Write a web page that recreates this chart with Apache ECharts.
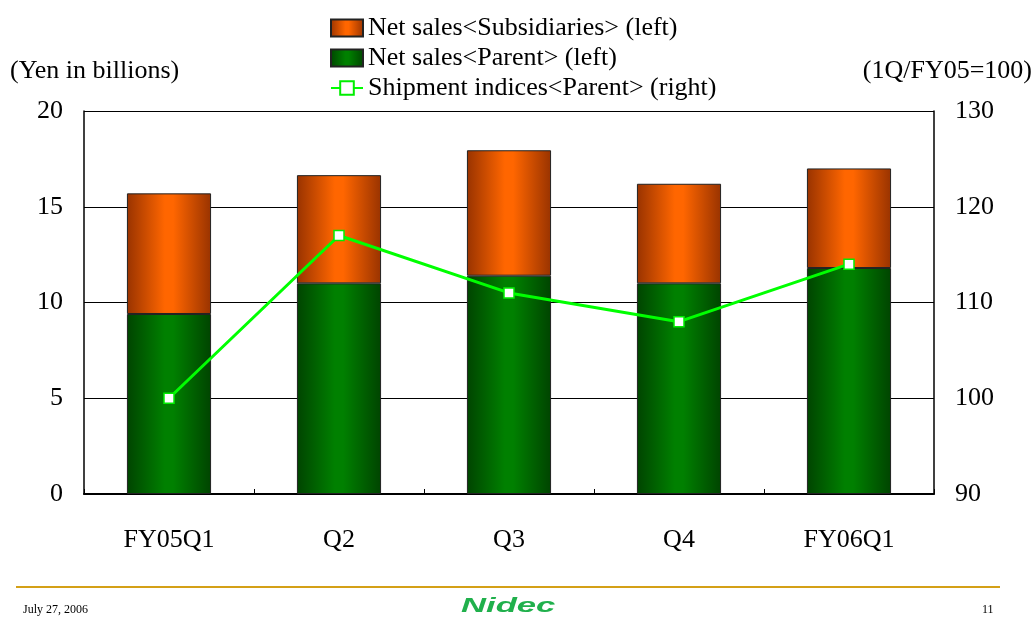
<!DOCTYPE html>
<html>
<head>
<meta charset="utf-8">
<script src="https://cdn.jsdelivr.net/npm/echarts@6/dist/echarts.min.js"></script>
<style>
html,body{margin:0;padding:0;background:#fff;}
#chart{width:1035px;height:619px;}
</style>
</head>
<body>
<div id="chart"></div>
<script>
var categories = ['FY05Q1', 'Q2', 'Q3', 'Q4', 'FY06Q1'];
var parentSales = [9.4, 11.0, 11.4, 11.0, 11.8];
var subsidiarySales = [6.3, 5.65, 6.55, 5.2, 5.2];
var shipmentIndex = [100, 117, 111, 108, 114];
var leftTicks = [0, 5, 10, 15, 20];
var rightTicks = [90, 100, 110, 120, 130];

var FONT = '"Liberation Serif", "Times New Roman", serif';
var FS = 26;

function grad(edge, mid) {
  return new echarts.graphic.LinearGradient(0, 0, 1, 0, [
    {offset: 0, color: edge},
    {offset: 0.45, color: mid},
    {offset: 0.55, color: mid},
    {offset: 1, color: edge}
  ]);
}

var chart = echarts.init(document.getElementById('chart'), null, {renderer: 'canvas'});
chart.setOption({
  backgroundColor: '#ffffff',
  animation: false,
  textStyle: {fontFamily: FONT},
  grid: {left: 84, right: 101, top: 111, bottom: 125, containLabel: false},
  legend: {
    orient: 'vertical',
    left: 325,
    top: 10,
    itemGap: 4,
    itemWidth: 32,
    itemHeight: 17,
    textStyle: {fontFamily: FONT, fontSize: FS, color: '#000', lineHeight: 26, padding: [0, 0, 0, 0]},
    data: [
      {name: 'Net sales<Subsidiaries> (left)', icon: 'rect'},
      {name: 'Net sales<Parent> (left)', icon: 'rect'},
      {name: 'Shipment indices<Parent> (right)'}
    ]
  },
  xAxis: {
    type: 'category',
    data: categories,
    axisLine: {lineStyle: {color: '#000', width: 2}},
    axisTick: {show: true, inside: true, length: 5, alignWithLabel: false, lineStyle: {color: '#000'}},
    axisLabel: {fontFamily: FONT, fontSize: FS, color: '#000', margin: 33}
  },
  yAxis: [
    {
      type: 'value', min: leftTicks[0], max: leftTicks[leftTicks.length - 1], interval: 5,
      axisLine: {show: true, lineStyle: {color: '#000', width: 1.5}},
      axisTick: {show: false},
      splitLine: {show: true, lineStyle: {color: '#000', width: 1}},
      axisLabel: {fontFamily: FONT, fontSize: FS, color: '#000', margin: 21}
    },
    {
      type: 'value', min: rightTicks[0], max: rightTicks[rightTicks.length - 1], interval: 10,
      axisLine: {show: true, lineStyle: {color: '#000', width: 1.5}},
      axisTick: {show: false},
      splitLine: {show: false},
      axisLabel: {fontFamily: FONT, fontSize: FS, color: '#000', margin: 21}
    }
  ],
  series: [
    {
      name: 'Net sales<Parent> (left)',
      type: 'bar', stack: 'sales', barWidth: '49.5%',
      data: parentSales,
      itemStyle: {color: grad('#004400', '#008000'), borderColor: '#222', borderWidth: 1}
    },
    {
      name: 'Net sales<Subsidiaries> (left)',
      type: 'bar', stack: 'sales',
      data: subsidiarySales,
      itemStyle: {color: grad('#993300', '#ff6600'), borderColor: '#222', borderWidth: 1}
    },
    {
      name: 'Shipment indices<Parent> (right)',
      type: 'line', yAxisIndex: 1,
      data: shipmentIndex,
      symbol: 'rect', symbolSize: 10,
      lineStyle: {color: '#00ff00', width: 3},
      itemStyle: {color: '#ffffff', borderColor: '#00ee00', borderWidth: 1.5},
      z: 5
    }
  ],
  graphic: [
    {type: 'text', left: 10, top: 58, style: {text: '(Yen in billions)', font: FS + 'px ' + FONT, fill: '#000'}},
    {type: 'text', right: 3, top: 58, style: {text: '(1Q/FY05=100)', font: FS + 'px ' + FONT, fill: '#000'}},
    {type: 'rect', shape: {x: 16, y: 586, width: 984, height: 2}, style: {fill: '#d4a017'}},
    {type: 'text', left: 23, top: 604, style: {text: 'July 27, 2006', font: '12px ' + FONT, fill: '#000'}},
    {type: 'text', left: 982, top: 604, style: {text: '11', font: '12px ' + FONT, fill: '#000'}},
    {type: 'text', x: 461, y: 596, scaleX: 1.65, style: {text: 'Nidec', font: 'italic 900 21px "Liberation Sans", Arial, sans-serif', fill: '#20b04c'}}
  ]
});
</script>
</body>
</html>
